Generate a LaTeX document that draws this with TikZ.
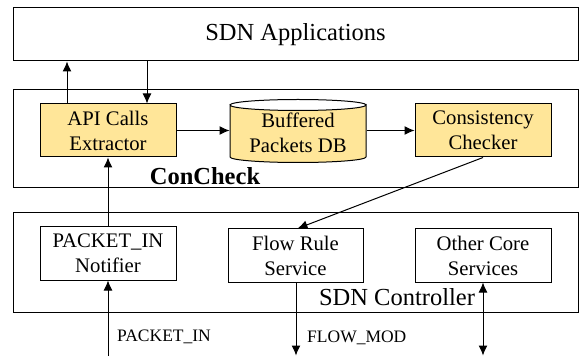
\documentclass[tikz,border=0pt]{standalone}
\usepackage{fontspec}
\setmainfont{Liberation Serif}
\usetikzlibrary{arrows.meta,calc}
\definecolor{gold}{RGB}{255,230,153}
\begin{document}
\begin{tikzpicture}[x=1pt,y=1pt,
  every node/.style={inner sep=0pt},
  frame/.style={draw, line width=1pt, minimum width=565pt},
  box/.style={draw, line width=1pt, minimum width=136pt, minimum height=53pt, align=center,
    font=\fontsize{20.7}{25}\selectfont},
  goldbox/.style={box, fill=gold},
  arr/.style={line width=1pt, -{Latex[length=10pt,width=9pt]}},
  darr/.style={line width=1pt, {Latex[length=10pt,width=9pt]}-{Latex[length=10pt,width=9pt]}},
  small/.style={font=\fontsize{17.5}{20}\selectfont, anchor=west}
]
\useasboundingbox (0,0) rectangle (580,356);
% frames
\node[frame, minimum height=53pt, font=\fontsize{24.5}{28}\selectfont] (apps) at (295.5,321.5) {SDN Applications};
\node[frame, minimum height=98pt] (cc) at (295.5,217) {};
\node[frame, minimum height=99pt] (ctrl) at (295.5,93.5) {};
% ConCheck components
\node[goldbox] (api) at (108,225.5) {API Calls\\Extractor};
% cylinder body
\filldraw[line width=1pt, fill=gold] (230,251) -- (230,199) arc[start angle=180, end angle=360, x radius=68pt, y radius=5.5pt] -- (366,251) arc[start angle=0, end angle=-180, x radius=68pt, y radius=5.5pt] -- cycle;
\draw[line width=1pt] (230,251) arc[start angle=180, end angle=0, x radius=68pt, y radius=5.5pt];
\node[box, draw=none, minimum height=63pt] (db) at (298,223) {Buffered\\Packets DB};
\node[goldbox] (chk) at (483,225.5) {Consistency\\Checker};
\node[font=\fontsize{24.5}{28}\selectfont\bfseries] (cclabel) at (205,180) {ConCheck};
% controller components
\node[box] (notif) at (108,102.5) {PACKET\_IN\\Notifier};
\node[box, minimum width=135pt] (flow) at (295.5,100.5) {Flow Rule\\Service};
\node[box] (other) at (483,100.5) {Other Core\\Services};
\node[font=\fontsize{24.5}{28}\selectfont] (ctrllabel) at (397,59) {SDN Controller};
% external coordinates
\coordinate (pin) at (108,0);
\coordinate (fmod) at (296,0.5);
\coordinate (ext) at (483,0.5);
% arrows
\draw[arr] ([xshift=-41pt]api.north) -- ([xshift=-41pt]api.north |- apps.south);
\draw[arr] ([xshift=39pt]api.north |- apps.south) -- ([xshift=39pt]api.north);
\draw[arr] (api.east) -- (db.west |- api.east);
\draw[arr] (db.east |- chk.west) -- (chk.west);
\draw[arr] (chk.south) -- ([xshift=2pt]flow.north);
\draw[arr] (notif.north) -- (api.south);
\draw[arr] (pin) -- (notif.south);
\draw[arr] (flow.south -| fmod) -- (fmod);
\draw[darr] (other.south) -- (ext);
% labels
\node[small] (l1) at (117,19) {PACKET\_IN};
\node[small] (l2) at (307,18) {FLOW\_MOD};
\end{tikzpicture}
\end{document}
